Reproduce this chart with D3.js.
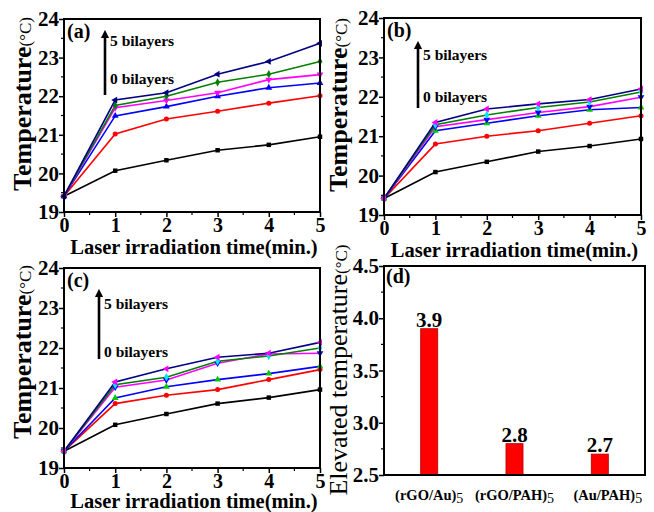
<!DOCTYPE html>
<html>
<head>
<meta charset="utf-8">
<script src="https://cdn.jsdelivr.net/npm/d3@7"></script>
<style>
  body { margin: 0; background: #fff; }
  svg, svg text { font-family: "Liberation Serif", "Times New Roman", serif; }
  svg { display: block; }
</style>
</head>
<body>
<svg id="chart" width="654" height="512"></svg>
<script>
// data
var times = [0, 1, 2, 3, 4, 5];
var xTickValues = [0, 1, 2, 3, 4, 5];
var yTickValues = [19, 20, 21, 22, 23, 24];

// series order: 0 bilayers ... 5 bilayers
var tempA = [
  [19.41, 20.07, 20.34, 20.60, 20.74, 20.95],
  [19.41, 21.02, 21.41, 21.61, 21.82, 22.01],
  [19.41, 21.49, 21.73, 22.00, 22.22, 22.34],
  [19.41, 21.70, 21.89, 22.09, 22.43, 22.56],
  [19.41, 21.76, 22.00, 22.36, 22.57, 22.90],
  [19.41, 21.90, 22.09, 22.57, 22.90, 23.37]
];
var tempB = [
  [19.42, 20.09, 20.35, 20.61, 20.75, 20.93],
  [19.42, 20.80, 21.00, 21.14, 21.33, 21.52],
  [19.42, 21.14, 21.33, 21.52, 21.67, 21.73],
  [19.42, 21.24, 21.42, 21.60, 21.75, 21.99],
  [19.42, 21.29, 21.54, 21.73, 21.87, 22.12],
  [19.42, 21.35, 21.69, 21.82, 21.93, 22.20]
];
var tempC = [
  [19.42, 20.08, 20.35, 20.61, 20.76, 20.96],
  [19.42, 20.61, 20.82, 20.96, 21.21, 21.46],
  [19.42, 20.75, 21.03, 21.21, 21.36, 21.54],
  [19.42, 21.02, 21.20, 21.62, 21.85, 21.87],
  [19.42, 21.08, 21.27, 21.67, 21.80, 22.00],
  [19.42, 21.15, 21.48, 21.77, 21.87, 22.14]
];

var barCategories = ['(rGO/Au)', '(rGO/PAH)', '(Au/PAH)'];
var barValues = [3.9, 2.8, 2.7];
var barTickValues = [2.5, 3.0, 3.5, 4.0, 4.5];

// styles
var lineColors = ['#000000', '#ff0000', '#0000ff', '#ff00ff', '#008000', '#000080'];
var markerColorsA = lineColors;
var markerColorsBC = ['#000000', '#ff0000', '#00c800', '#0000ff', '#00e6e6', '#ff00ff'];
var markerShapes = [
  { type: d3.symbolSquare, rot: 0 },
  { type: d3.symbolCircle, rot: 0 },
  { type: d3.symbolTriangle, rot: 0 },
  { type: d3.symbolTriangle, rot: 180 },
  { type: d3.symbolDiamond, rot: 0 },
  { type: d3.symbolTriangle, rot: -90 }
];

var svg = d3.select('#chart');

svg.append('defs').append('marker')
  .attr('id', 'arrowhead')
  .attr('viewBox', '0 0 10 10')
  .attr('refX', 5).attr('refY', 5)
  .attr('markerWidth', 3.2).attr('markerHeight', 3.6)
  .attr('orient', 'auto')
  .append('path')
  .attr('d', 'M0,0 L10,5 L0,10 z')
  .attr('fill', '#000');

function styleAxis(g, size) {
  g.select('.domain').remove();
  g.selectAll('.tick line').attr('stroke', '#000').attr('stroke-width', 1.5);
  g.selectAll('.tick text')
    .attr('fill', '#000')
    .style('font-size', size + 'px')
    .style('font-weight', 'bold');
}

function drawFrame(x0, x1, yTop, yBottom) {
  svg.append('rect')
    .attr('x', x0).attr('y', yTop)
    .attr('width', x1 - x0).attr('height', yBottom - yTop)
    .attr('fill', 'none')
    .attr('stroke', '#000')
    .attr('stroke-width', 2);
}

function minorTicks(scale, values, orient, pos, len) {
  var g = svg.append('g');
  values.forEach(function (v) {
    if (orient === 'bottom') {
      g.append('line')
        .attr('x1', scale(v)).attr('x2', scale(v))
        .attr('y1', pos).attr('y2', pos + len)
        .attr('stroke', '#000').attr('stroke-width', 1.2);
    } else {
      g.append('line')
        .attr('y1', scale(v)).attr('y2', scale(v))
        .attr('x1', pos).attr('x2', pos - len)
        .attr('stroke', '#000').attr('stroke-width', 1.2);
    }
  });
}

function yTitle(cx, cy, main, unit, bold) {
  var t = svg.append('text')
    .attr('transform', 'translate(' + cx + ',' + cy + ') rotate(-90)')
    .attr('text-anchor', 'middle')
    .attr('fill', '#000');
  t.append('tspan')
    .style('font-size', '26px')
    .style('font-weight', bold ? 'bold' : 'normal')
    .text(main);
  t.append('tspan')
    .style('font-size', '17px')
    .style('font-weight', 'normal')
    .text(unit);
}

function drawLinePanel(p) {
  var x = d3.scaleLinear().domain([0, 5]).range([p.x0, p.x1]);
  var y = d3.scaleLinear().domain([19, 24]).range([p.yBottom, p.yTop]);

  // minor ticks
  minorTicks(x, [0.5, 1.5, 2.5, 3.5, 4.5], 'bottom', p.yBottom, 3);
  minorTicks(y, [19.5, 20.5, 21.5, 22.5, 23.5], 'left', p.x0, 3);

  var gx = svg.append('g')
    .attr('transform', 'translate(0,' + p.yBottom + ')')
    .call(d3.axisBottom(x).tickValues(xTickValues).tickFormat(d3.format('d')).tickSize(5).tickPadding(1));
  styleAxis(gx, 20);

  var gy = svg.append('g')
    .attr('transform', 'translate(' + p.x0 + ',0)')
    .call(d3.axisLeft(y).tickValues(yTickValues).tickFormat(d3.format('d')).tickSize(5).tickPadding(0));
  styleAxis(gy, 21);

  var line = d3.line()
    .x(function (d, i) { return x(times[i]); })
    .y(function (d) { return y(d); });

  p.data.forEach(function (series, si) {
    svg.append('path')
      .datum(series)
      .attr('d', line)
      .attr('fill', 'none')
      .attr('stroke', lineColors[si])
      .attr('stroke-width', 1.6);
  });
  p.data.forEach(function (series, si) {
    var shape = markerShapes[si];
    svg.append('g').selectAll('path')
      .data(series)
      .join('path')
      .attr('d', d3.symbol().type(shape.type).size(20))
      .attr('transform', function (d, i) {
        return 'translate(' + x(times[i]) + ',' + y(d) + ') rotate(' + shape.rot + ')';
      })
      .attr('fill', p.markerColors[si]);
  });

  drawFrame(p.x0, p.x1, p.yTop, p.yBottom);

  // panel letter
  svg.append('text')
    .attr('x', p.x0 + 3).attr('y', p.yTop + 19)
    .style('font-size', '20px').style('font-weight', 'bold')
    .text(p.letter);

  // arrow from 0 bilayers up to 5 bilayers
  svg.append('line')
    .attr('x1', p.arrowX).attr('x2', p.arrowX)
    .attr('y1', p.arrowBottom).attr('y2', p.arrowTop + 6)
    .attr('stroke', '#000').attr('stroke-width', 2.6)
    .attr('marker-end', 'url(#arrowhead)');
  svg.append('text')
    .attr('x', p.arrowX + 5).attr('y', p.label5Y)
    .style('font-size', '15.5px').style('font-weight', 'bold')
    .text('5 bilayers');
  svg.append('text')
    .attr('x', p.arrowX + 5).attr('y', p.label0Y)
    .style('font-size', '15.5px').style('font-weight', 'bold')
    .text('0 bilayers');

  // axis titles
  svg.append('text')
    .attr('x', (p.x0 + p.x1) / 2 + 2).attr('y', p.xTitleY)
    .attr('text-anchor', 'middle')
    .style('font-size', '20.5px').style('font-weight', 'bold')
    .text('Laser irradiation time(min.)');
  yTitle(p.yTitleX, p.yTitleCY, 'Temperature', '(°C)', true);
}

drawLinePanel({
  data: tempA, markerColors: markerColorsA, letter: '(a)',
  x0: 64, x1: 320, yTop: 19, yBottom: 212,
  arrowX: 105, arrowTop: 28, arrowBottom: 95, label5Y: 46, label0Y: 84,
  xTitleY: 254, yTitleX: 31, yTitleCY: 104
});
drawLinePanel({
  data: tempB, markerColors: markerColorsBC, letter: '(b)',
  x0: 384, x1: 641, yTop: 18, yBottom: 215,
  arrowX: 418, arrowTop: 39, arrowBottom: 108, label5Y: 60, label0Y: 102,
  xTitleY: 257, yTitleX: 347, yTitleCY: 105
});
drawLinePanel({
  data: tempC, markerColors: markerColorsBC, letter: '(c)',
  x0: 64, x1: 320, yTop: 268, yBottom: 468,
  arrowX: 99, arrowTop: 287, arrowBottom: 359, label5Y: 309, label0Y: 357,
  xTitleY: 508, yTitleX: 31, yTitleCY: 352
});

// panel (d): bar chart
(function () {
  var x0 = 384, x1 = 645, yTop = 266, yBottom = 475;
  var x = d3.scaleBand().domain(barCategories).range([x0, x1])
    .paddingInner(0.8).paddingOuter(0.43);
  var y = d3.scaleLinear().domain([2.5, 4.5]).range([yBottom, yTop]);

  minorTicks(y, [2.75, 3.25, 3.75, 4.25], 'left', x0, 3);

  var gy = svg.append('g')
    .attr('transform', 'translate(' + x0 + ',0)')
    .call(d3.axisLeft(y).tickValues(barTickValues).tickFormat(d3.format('.1f')).tickSize(5).tickPadding(0));
  styleAxis(gy, 21);

  svg.append('g').selectAll('rect')
    .data(barValues)
    .join('rect')
    .attr('x', function (d, i) { return x(barCategories[i]); })
    .attr('y', function (d) { return y(d); })
    .attr('width', x.bandwidth())
    .attr('height', function (d) { return yBottom - y(d); })
    .attr('fill', '#ff0000')
    .attr('stroke', '#b00000')
    .attr('stroke-width', 0.8);

  svg.append('g').selectAll('text')
    .data(barValues)
    .join('text')
    .attr('x', function (d, i) { return x(barCategories[i]) + x.bandwidth() / 2; })
    .attr('y', function (d) { return y(d) - 2; })
    .attr('text-anchor', 'middle')
    .style('font-size', '21px').style('font-weight', 'bold')
    .text(function (d) { return d3.format('.1f')(d); });

  var cat = svg.append('g').selectAll('text')
    .data(barCategories)
    .join('text')
    .attr('x', function (d, i) { return x(d) + x.bandwidth() / 2 + (i === 2 ? 8 : 0); })
    .attr('y', 500)
    .attr('text-anchor', 'middle')
    .style('font-size', '14.5px').style('font-weight', 'bold');
  cat.append('tspan').text(function (d) { return d; });
  cat.append('tspan')
    .attr('dy', 3)
    .style('font-size', '14px').style('font-weight', 'normal')
    .text('5');

  drawFrame(x0, x1, yTop, yBottom);

  svg.append('text')
    .attr('x', x0 + 2).attr('y', yTop + 17)
    .style('font-size', '20px').style('font-weight', 'bold')
    .text('(d)');

  yTitle(347, 370, 'Elevated temperature', '(°C)', false);
})();
</script>
</body>
</html>
